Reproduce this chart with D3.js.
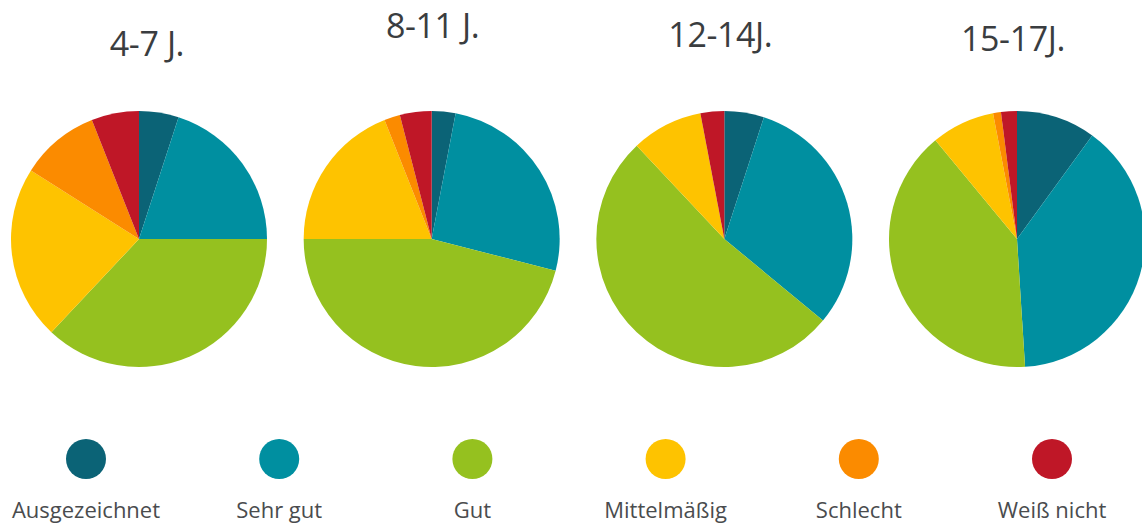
<!DOCTYPE html>
<html>
<head>
<meta charset="utf-8">
<script src="https://cdn.jsdelivr.net/npm/d3@7"></script>
<style>
  html, body { margin: 0; padding: 0; background: #ffffff; }
  svg { display: block; }
  text { font-family: "Open Sans", "Noto Sans", sans-serif; }
</style>
</head>
<body>
<svg id="chart" width="1142" height="524"></svg>
<script>
// ---- data ----
const groups = ["4-7 J.", "8-11 J.", "12-14J.", "15-17J."];
const categories = ["Ausgezeichnet", "Sehr gut", "Gut", "Mittelmäßig", "Schlecht", "Weiß nicht"];
const colors = ["#0b6376", "#008fa0", "#95c11f", "#fec300", "#fb8b00", "#bf1727"];
const values47 = [5, 20, 37, 22, 10, 6];
const values811 = [3, 26, 46, 19, 2, 4];
const values1214 = [5, 31, 52, 9, 0, 3];
const values1517 = [10, 39, 40, 8, 1, 2];
const seriesValues = [values47, values811, values1214, values1517];

// ---- layout ----
const svg = d3.select("#chart");
const radius = 128;
const cy = 239;
const titleY = [56, 38, 47, 51];
const titleDx = [8, 1, -4, -4];

const xPie = d3.scalePoint().domain(groups).range([139, 1017]);
const xLegend = d3.scalePoint().domain(categories).range([86, 1052]);
const color = d3.scaleOrdinal().domain(categories).range(colors);

const pie = d3.pie().sort(null).value(d => d.v);
const arc = d3.arc().innerRadius(0).outerRadius(radius);

groups.forEach((g, i) => {
  const data = categories.map((c, j) => ({ c, v: seriesValues[i][j] }));
  const gEl = svg.append("g").attr("transform", `translate(${xPie(g)},${cy})`);
  gEl.selectAll("path")
    .data(pie(data))
    .join("path")
    .attr("d", arc)
    .attr("fill", d => color(d.data.c));

  svg.append("text")
    .attr("x", xPie(g) + titleDx[i])
    .attr("y", titleY[i])
    .attr("text-anchor", "middle")
    .attr("font-size", 34)
    .attr("letter-spacing", -0.4)
    .attr("fill", "#3a3d40")
    .text(g);
});

// ---- legend ----
const leg = svg.append("g");
leg.selectAll("circle")
  .data(categories)
  .join("circle")
  .attr("cx", d => xLegend(d))
  .attr("cy", 459)
  .attr("r", 20)
  .attr("fill", d => color(d));
leg.selectAll("text")
  .data(categories)
  .join("text")
  .attr("x", d => xLegend(d))
  .attr("y", 518)
  .attr("text-anchor", "middle")
  .attr("font-size", 22)
  .attr("fill", "#4a4c4e")
  .text(d => d);
</script>
</body>
</html>
